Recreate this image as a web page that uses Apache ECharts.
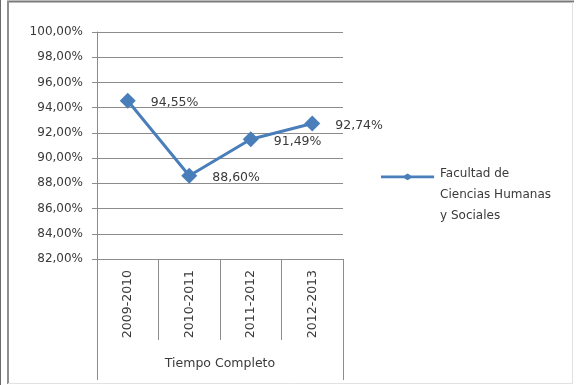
<!DOCTYPE html>
<html>
<head>
<meta charset="utf-8">
<script src="https://cdn.jsdelivr.net/npm/echarts@6/dist/echarts.min.js"></script>
<style>
html,body{margin:0;padding:0;background:#fff;}
#chart{width:580px;height:385px;}
</style>
</head>
<body>
<div id="chart"></div>
<script>
const categories = ['2009-2010', '2010-2011', '2011-2012', '2012-2013'];
const seriesName = 'Facultad de\nCiencias Humanas\ny Sociales';
const values = [94.55, 88.60, 91.49, 92.74];
const axisTitle = 'Tiempo Completo';
const yMin = 82, yMax = 100, yStep = 2;
const yTickLabels = ['82,00%', '84,00%', '86,00%', '88,00%', '90,00%', '92,00%', '94,00%', '96,00%', '98,00%', '100,00%'];

const FONT = 'DejaVu Sans';
const TXT = '#3a3a3a';
const GRIDC = '#8c8c8c';
const BLUE = '#4a7ebb';

const chart = echarts.init(document.getElementById('chart'), null, {renderer: 'canvas'});
chart.setOption({
  animation: false,
  backgroundColor: '#ffffff',
  grid: {left: 97, right: 237, top: 32, bottom: 126, containLabel: false},
  graphic: [
    {type: 'line', shape: {x1: 0.5, y1: 0, x2: 0.5, y2: 385}, style: {stroke: '#6a6a6a', lineWidth: 1}},
    {type: 'line', shape: {x1: 7, y1: 1.5, x2: 574, y2: 1.5}, style: {stroke: '#7a7a7a', lineWidth: 2}},
    {type: 'line', shape: {x1: 8, y1: 1, x2: 8, y2: 384}, style: {stroke: '#8e8e8e', lineWidth: 2}},
    {type: 'line', shape: {x1: 572.5, y1: 2, x2: 572.5, y2: 384}, style: {stroke: '#e2e2e2', lineWidth: 1}},
    {type: 'line', shape: {x1: 8, y1: 383.5, x2: 573, y2: 383.5}, style: {stroke: '#e2e2e2', lineWidth: 1}}
  ],
  legend: {
    show: true,
    left: 376,
    top: 158,
    orient: 'vertical',
    itemWidth: 55,
    itemHeight: 42,
    itemGap: 0,
    icon: 'path://M0,-2L0,-2L0,-2Z M55,40L55,40L55,40Z M0,-1.3L24,-1.3L27.5,-3.5L31,-1.3L55,-1.3L55,1.3L31,1.3L27.5,3.5L24,1.3L0,1.3Z',
    itemStyle: {borderWidth: 0},
    textStyle: {fontFamily: FONT, fontSize: 12, color: TXT, lineHeight: 21},
    selectedMode: false,
    data: [seriesName]
  },
  xAxis: [
    {
      type: 'category',
      data: categories,
      boundaryGap: true,
      position: 'bottom',
      axisLine: {show: true, lineStyle: {color: GRIDC, width: 1}},
      axisTick: {show: true, interval: 0, length: 81, alignWithLabel: false, lineStyle: {color: GRIDC, width: 1}},
      axisLabel: {show: true, interval: 0, rotate: 90, margin: 11, fontFamily: FONT, fontSize: 12.5, color: TXT},
      splitLine: {show: false},
      name: axisTitle,
      nameLocation: 'middle',
      nameGap: 98,
      nameTextStyle: {fontFamily: FONT, fontSize: 12.5, color: TXT}
    },
    {
      type: 'value',
      min: 0, max: 1, interval: 1,
      position: 'bottom',
      axisLine: {show: false},
      axisTick: {show: true, length: 121, lineStyle: {color: GRIDC, width: 1}},
      axisLabel: {show: false},
      splitLine: {show: false}
    }
  ],
  yAxis: {
    type: 'value',
    min: yMin, max: yMax, interval: yStep,
    axisLine: {show: true, lineStyle: {color: GRIDC, width: 1}},
    axisTick: {show: true, length: 5, lineStyle: {color: GRIDC, width: 1}},
    axisLabel: {
      margin: 14, fontFamily: FONT, fontSize: 12, color: TXT,
      formatter: function (v) { return yTickLabels[Math.round((v - yMin) / yStep)]; }
    },
    splitLine: {show: true, lineStyle: {color: GRIDC, width: 1}}
  },
  series: [{
    name: seriesName,
    type: 'line',
    xAxisIndex: 0,
    data: values,
    symbol: 'diamond',
    symbolSize: 16,
    lineStyle: {color: BLUE, width: 3},
    itemStyle: {color: BLUE},
    label: {
      show: true, position: 'right', distance: 15, offset: [0, 2],
      fontFamily: FONT, fontSize: 12.5, color: TXT,
      formatter: function (p) { return p.value.toFixed(2).replace('.', ',') + '%'; }
    },
    emphasis: {disabled: true}
  }]
});
</script>
</body>
</html>
